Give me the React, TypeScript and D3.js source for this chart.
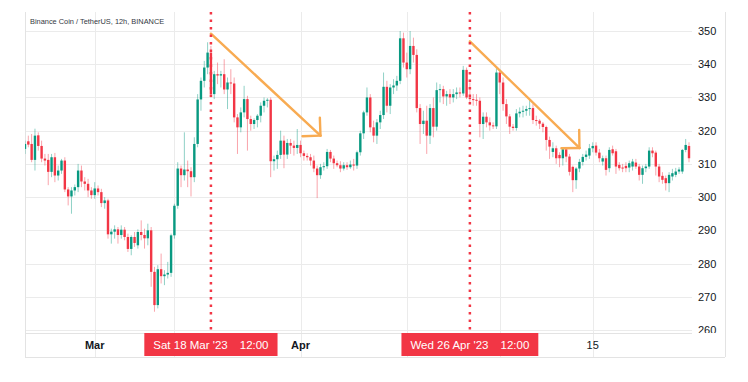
import React from 'react';
import * as d3 from 'd3';

const TITLE = 'Binance Coin / TetherUS, 12h, BINANCE';
const START = Date.UTC(2023, 1, 18, 12);
const BAR_MS = 12 * 3600 * 1000;

const OPEN = [
  314.5, 316.8, 316, 311.2, 318.6, 315.4, 311.6, 311.2, 307.6, 312, 306.5, 308, 311, 302.3, 300.2, 302, 303, 308, 304.7, 304,
  302, 300.6, 302.6, 301.5, 298.2, 299, 288.8, 289.6, 290.3, 288.6, 290.2, 288, 284.4, 288, 285.5, 289.5, 288.6, 287.6, 290, 277.5,
  267.5, 278.3, 276.2, 276.7, 277.2, 288.5, 297.4, 308.6, 306.6, 308.3, 307.8, 306, 316, 329.4, 335, 339, 343.5, 331, 337, 336.6,
  337, 332.4, 334.5, 334.2, 324, 321, 325.5, 329.5, 323.5, 322, 323.2, 324.5, 327.5, 329, 329.3, 310.8, 311.4, 312.7, 317, 312.8,
  316.3, 315.5, 314.8, 315.7, 313.2, 312.4, 312, 311, 308.6, 306.6, 309, 309.3, 313.6, 311.6, 310.2, 309.6, 308.6, 309.6, 309, 309.8,
  309.5, 313.5, 319.2, 325.5, 330, 321, 318.5, 322.5, 324.7, 333.2, 327.5, 333, 333.6, 335, 347.8, 340.5, 338.5, 345.5, 342.8, 326.8,
  322, 323, 318.5, 326.8, 321.2, 332.2, 332.5, 330.3, 331, 330, 331, 331.5, 331.2, 338.3, 330, 329.5, 329.3, 329, 322, 324.2,
  322.5, 321.6, 321.3, 337.5, 334.5, 328, 324.3, 321.2, 320.8, 325.2, 325.7, 326, 326.5, 326.8, 323.2, 323, 322.1, 321.1, 317.2, 313.6,
  314.7, 312.7, 311.7, 314.4, 312.2, 309.1, 305.1, 308.6, 310.6, 312.1, 312.5, 314.7, 315.5, 313.4, 310.7, 311.7, 308.7, 314.4, 313.8, 309.7,
  308.9, 309.4, 308.9, 309.2, 310.4, 309.2, 306.7, 308.7, 309.2, 314, 313.4, 309.2, 306.4, 305.7, 304.2, 306.2, 306.7, 307.7, 307.7, 314.2,
  315.4,
];
const HIGH = [
  317, 318.5, 319, 320.6, 319.5, 317, 313, 313, 313, 313.3, 309.5, 311.5, 312, 303, 303, 303.8, 310, 309.5, 306, 305.5,
  303, 304.5, 303.5, 302.5, 300, 299.5, 290.5, 291.5, 291, 291.5, 291, 289, 288.5, 289.5, 290.3, 293, 290.5, 292, 291, 279,
  279.5, 283, 278, 280.5, 289, 298, 310.5, 309.5, 319.5, 311, 309, 318, 331, 336, 341, 346.6, 345.5, 338, 340.5, 338,
  341.5, 336, 338.5, 336, 325, 327, 333.5, 330.5, 324.5, 323.7, 325, 328.5, 330, 329.8, 330, 312.5, 314, 320, 318.5, 317.5,
  317.5, 317, 320.5, 317, 314, 313.2, 313, 312.5, 309.5, 310, 310.5, 314.5, 314.2, 312.5, 311, 310.8, 310.5, 310.5, 311, 311.5,
  314, 320, 326, 333, 331, 323, 323.5, 326, 337.5, 335, 334, 335.5, 336.5, 350, 349.5, 343.5, 350, 348, 344.5, 328,
  326, 327.5, 328, 330, 334.5, 334, 333.5, 332, 332.5, 332.5, 333, 333, 339.5, 339, 334.5, 331, 331, 330, 325.5, 325.5,
  324, 322.5, 339, 338.5, 336, 329.5, 325, 322, 326.5, 327, 327.5, 327.5, 329.5, 328, 324.5, 323.5, 322.6, 321.5, 318.2, 316.5,
  315.5, 313.5, 315, 315, 313, 309.5, 309, 311.5, 313, 314, 316, 316.5, 316.5, 314.5, 312.5, 312.5, 315, 315.5, 314.5, 310.5,
  310, 310.5, 311, 311.5, 311.5, 310, 309.5, 310, 315, 315, 314, 310, 307.5, 306.5, 307.5, 308.5, 308.8, 309, 314.5, 317.5,
  316.5,
];
const LOW = [
  313, 315, 310.5, 308, 314, 310.5, 309.5, 303.6, 306, 304.5, 305, 307, 301.5, 297.5, 295, 300.5, 301.5, 303, 302, 300,
  299.5, 299.5, 300.5, 297, 296.5, 287.5, 286, 287.5, 286, 287.5, 287, 283.5, 282.5, 285, 284.5, 287, 284.5, 285.5, 273, 265.5,
  266.5, 274, 273.5, 275.5, 276, 287.5, 296.5, 303, 305, 303, 300.2, 304.5, 315, 326, 333, 337, 330, 329.5, 334, 333,
  331, 326.5, 331, 322.5, 313, 319.5, 324, 314, 320, 320.5, 321, 322.5, 325.5, 327, 306, 308, 308.5, 311.5, 308.7, 311.5,
  313, 312.5, 313, 312, 311, 311, 309.5, 307.5, 299.7, 305.5, 308, 308.5, 310.5, 308.5, 309, 307.5, 308, 308.2, 308.5, 308,
  308.5, 312.5, 317.5, 324.5, 319.5, 316.5, 316, 320.5, 323.5, 325.5, 325, 331, 332, 334, 339, 336, 337, 340.5, 325.5, 316,
  319, 313, 316, 318, 320, 328.5, 328, 327.5, 328, 328.5, 329.5, 330, 330.5, 329.5, 328.5, 327.5, 327.5, 318, 317.5, 321,
  320, 320.5, 320.5, 331, 326, 322, 319, 320, 320, 324, 324, 324.5, 324.5, 322, 321.5, 320.5, 319.5, 314, 311.5, 312,
  310, 309, 309.5, 310.5, 306.5, 301.5, 302.5, 307.5, 309.5, 311, 311.5, 313.5, 312.5, 310.5, 309.5, 306.5, 307.5, 312.5, 307, 308,
  307.5, 307.5, 307.5, 308, 308.5, 305, 304, 307.5, 308.5, 312, 306.5, 304.5, 304, 302, 301.5, 305, 306, 307, 307, 313.5,
  310.5,
];
const CLOSE = [
  316, 315.8, 311.2, 318.5, 315.4, 311.6, 311, 307.6, 312, 306.5, 308, 311, 302.3, 300.2, 302, 303, 308, 304.7, 304, 302,
  300.6, 302.6, 301.5, 298.2, 299, 288.8, 289.6, 290.3, 288.6, 290.2, 288, 284.4, 288, 286.2, 289.5, 288.6, 287.6, 290, 277.5, 267.5,
  278.3, 276.2, 276.7, 277.2, 288.5, 297.4, 308.6, 306.6, 308.3, 307.8, 306, 316, 329.4, 335, 339, 343.5, 331, 337, 336.6, 337,
  332.4, 334.5, 334.2, 324, 321, 325.5, 329.5, 323.5, 322, 323.2, 324.5, 327.5, 329, 329.3, 310.8, 311.4, 312.7, 317, 312.8, 316.3,
  315.5, 314.8, 315.7, 313.2, 312.4, 312, 311, 308.6, 306.6, 309, 309.3, 313.6, 311.6, 310.2, 309.6, 308.6, 309.6, 309, 309.8, 309.5,
  313.5, 319.2, 325.5, 330, 321, 318.5, 322.5, 324.7, 333.2, 327.5, 333, 333.6, 335, 347.8, 340.5, 338.5, 345.5, 342.8, 326.8, 322,
  323, 318.5, 326.8, 321.2, 332.2, 332.5, 330.3, 331, 330, 331, 331.5, 331.2, 338.3, 330, 329.5, 329.3, 329, 322, 324.2, 322.5,
  321.6, 321.3, 337.5, 334.5, 328, 324.3, 321.2, 320.8, 325.2, 325.7, 326, 326.5, 326.8, 323.2, 323, 322.1, 321.1, 317.2, 315.2, 314.7,
  311.7, 311.7, 314.4, 312.2, 307.6, 305.1, 308.6, 310.6, 312.1, 312.8, 314.7, 315.4, 313.4, 311.7, 311.7, 308.2, 314.2, 313.2, 309.2, 308.7,
  308.6, 308.7, 310.2, 310.7, 309.2, 306.7, 308.7, 309.2, 314, 313.2, 309.2, 306.2, 305.2, 304.2, 306.7, 307.2, 307.7, 308.3, 314.2, 315.7,
  311.7,
];

const PRICE_TICKS = [260, 270, 280, 290, 300, 310, 320, 330, 340, 350];
const GRID_DATES = [
  Date.UTC(2023, 2, 1), Date.UTC(2023, 2, 13), Date.UTC(2023, 3, 1),
  Date.UTC(2023, 3, 17), Date.UTC(2023, 4, 1), Date.UTC(2023, 4, 15),
];
const LABEL_DATES = [Date.UTC(2023, 2, 1), Date.UTC(2023, 3, 1), Date.UTC(2023, 4, 15)];
const LABEL_TEXTS = ['Mar', 'Apr', '15'];
const LABEL_BOLD = [true, true, false];
const MARKER_DATES = [Date.UTC(2023, 2, 18, 12), Date.UTC(2023, 3, 26, 12)];
const MARKER_DAYS = ["Sat 18 Mar '23", "Wed 26 Apr '23"];
const MARKER_TIMES = ['12:00', '12:00'];
const ARROW_FROM_DATES = [Date.UTC(2023, 2, 18, 12), Date.UTC(2023, 3, 26, 12)];
const ARROW_FROM_PRICES = [349.2, 346.9];
const ARROW_TO_DATES = [Date.UTC(2023, 3, 4), Date.UTC(2023, 4, 13)];
const ARROW_TO_PRICES = [318.5, 314.8];

const W = 748;
const H = 382;
const FONT = '"Liberation Sans", Arial, sans-serif';
const UP = '#089981';
const DOWN = '#f23645';

export default function App() {
  const ref = React.useRef<SVGSVGElement>(null);

  React.useEffect(() => {
    const svg = d3.select(ref.current);
    svg.selectAll('*').remove();

    const left = 25, right = 692, top = 12, plotBottom = 333, axisBottom = 357, frameRight = 725;
    const n = CLOSE.length;
    const x = d3.scaleUtc()
      .domain([new Date(START), new Date(START + (n - 1) * BAR_MS)])
      .range([left, left + (n - 1) * 3.32]);
    const y = d3.scaleLinear().domain([260, 350]).range([330, 31]);

    svg.append('rect').attr('width', W).attr('height', H).attr('fill', '#ffffff');

    const defs = svg.append('defs');
    defs.append('clipPath').attr('id', 'plotclip').append('rect')
      .attr('x', left).attr('y', top).attr('width', right - left).attr('height', plotBottom - top);
    defs.append('clipPath').attr('id', 'axisclip').append('rect')
      .attr('x', right).attr('y', top).attr('width', frameRight - right).attr('height', plotBottom - top);

    const grid = svg.append('g').attr('stroke', '#ebebeb').attr('stroke-width', 1);
    PRICE_TICKS.forEach(p => {
      const yy = Math.round(y(p)) + 0.5;
      grid.append('line').attr('x1', left).attr('x2', right).attr('y1', yy).attr('y2', yy);
    });
    GRID_DATES.forEach(d => {
      const xx = Math.round(x(new Date(d))) + 0.5;
      grid.append('line').attr('x1', xx).attr('x2', xx).attr('y1', top).attr('y2', axisBottom);
    });

    const frame = svg.append('g').attr('stroke', '#e3e3e3').attr('stroke-width', 1);
    frame.append('line').attr('x1', left + 0.5).attr('x2', left + 0.5).attr('y1', top).attr('y2', axisBottom);
    frame.append('line').attr('x1', frameRight + 0.5).attr('x2', frameRight + 0.5).attr('y1', top).attr('y2', axisBottom);
    frame.append('line').attr('x1', left).attr('x2', right).attr('y1', plotBottom + 0.5).attr('y2', plotBottom + 0.5);
    frame.append('line').attr('x1', left).attr('x2', frameRight).attr('y1', axisBottom + 0.5).attr('y2', axisBottom + 0.5);

    const candles = svg.append('g').attr('clip-path', 'url(#plotclip)');
    const bodyW = 2.4;
    for (let i = 0; i < n; i++) {
      const cx = x(new Date(START + i * BAR_MS));
      const o = OPEN[i], c = CLOSE[i], h = HIGH[i], l = LOW[i];
      const col = c >= o ? UP : DOWN;
      candles.append('line')
        .attr('x1', cx).attr('x2', cx).attr('y1', y(h)).attr('y2', y(l))
        .attr('stroke', col).attr('stroke-opacity', 0.45).attr('stroke-width', 1);
      const y0 = y(Math.max(o, c));
      const hgt = Math.max(1, Math.abs(y(o) - y(c)));
      candles.append('rect')
        .attr('x', cx - bodyW / 2).attr('y', y0).attr('width', bodyW).attr('height', hgt)
        .attr('fill', col);
    }

    svg.append('text').attr('x', 30).attr('y', 24)
      .attr('font-family', FONT).attr('font-size', 7.4).attr('fill', '#333842')
      .text(TITLE);

    const arrows = svg.append('g').attr('clip-path', 'url(#plotclip)')
      .attr('stroke', '#f8ab52').attr('stroke-width', 2.4).attr('fill', 'none')
      .attr('stroke-linecap', 'round').attr('stroke-linejoin', 'round');
    ARROW_FROM_DATES.forEach((d, k) => {
      const x1 = x(new Date(d)), y1 = y(ARROW_FROM_PRICES[k]);
      const x2 = x(new Date(ARROW_TO_DATES[k])), y2 = y(ARROW_TO_PRICES[k]);
      arrows.append('line').attr('x1', x1).attr('y1', y1).attr('x2', x2).attr('y2', y2);
      const ang = Math.atan2(y1 - y2, x1 - x2);
      const len = 18;
      [Math.PI / 4, -Math.PI / 4].forEach(off => {
        arrows.append('line').attr('x1', x2).attr('y1', y2)
          .attr('x2', x2 + len * Math.cos(ang + off)).attr('y2', y2 + len * Math.sin(ang + off));
      });
    });

    MARKER_DATES.forEach(d => {
      const xx = x(new Date(d));
      svg.append('line').attr('x1', xx).attr('x2', xx).attr('y1', top).attr('y2', plotBottom)
        .attr('stroke', DOWN).attr('stroke-width', 2.5).attr('stroke-dasharray', '2.5 5');
    });

    const pl = svg.append('g').attr('clip-path', 'url(#axisclip)')
      .attr('font-family', FONT).attr('font-size', 11).attr('fill', '#131722');
    PRICE_TICKS.forEach(p => {
      pl.append('text').attr('x', 698).attr('y', y(p) + 4).text(String(p));
    });

    const tl = svg.append('g').attr('font-family', FONT).attr('font-size', 11).attr('fill', '#131722')
      .attr('text-anchor', 'middle');
    LABEL_DATES.forEach((d, k) => {
      tl.append('text').attr('x', x(new Date(d))).attr('y', 349)
        .attr('font-weight', LABEL_BOLD[k] ? 'bold' : 'normal').text(LABEL_TEXTS[k]);
    });

    MARKER_DATES.forEach((d, k) => {
      const xx = x(new Date(d));
      const g = svg.append('g');
      const rect = g.append('rect').attr('fill', DOWN);
      const t1 = g.append('text').attr('font-family', FONT).attr('font-size', 11.5).attr('fill', '#ffffff')
        .attr('y', 349).text(MARKER_DAYS[k]);
      const t2 = g.append('text').attr('font-family', FONT).attr('font-size', 11.5).attr('fill', '#ffffff')
        .attr('y', 349).text(MARKER_TIMES[k]);
      const w1 = (t1.node() as SVGTextElement).getComputedTextLength();
      const w2 = (t2.node() as SVGTextElement).getComputedTextLength();
      const pad = 9, gap = 12;
      const bw = pad * 2 + w1 + gap + w2;
      const bx = xx - bw / 2;
      rect.attr('x', bx).attr('y', 333).attr('width', bw).attr('height', 23);
      t1.attr('x', bx + pad);
      t2.attr('x', bx + pad + w1 + gap);
    });
  }, []);

  return (
    <svg ref={ref} width={W} height={H}
      style={{ position: 'absolute', left: 0, top: 0, background: '#fff', display: 'block' }} />
  );
}
